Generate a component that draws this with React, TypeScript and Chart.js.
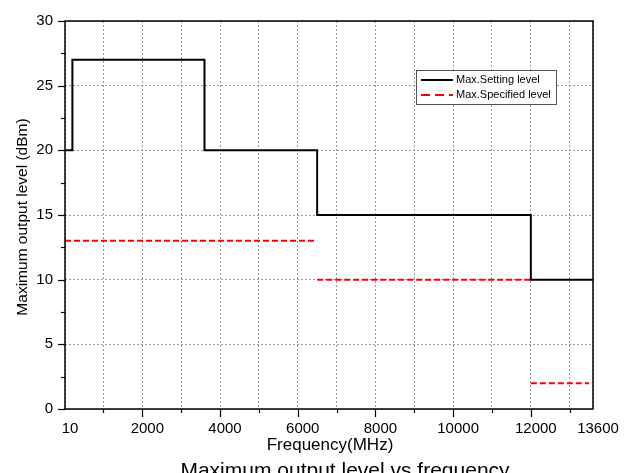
import React, { useEffect, useRef } from "react";
import { Chart, registerables } from "chart.js";

Chart.register(...registerables);

// ---- data ----
const settingFreq = [10, 200, 200, 3600, 3600, 6500, 6500, 12000, 12000, 13600];
const settingLevel = [20, 20, 27, 27, 20, 20, 15, 15, 10, 10];
const specFreq = [10, 6500, 6500, 6500, 12000, 12000, 12000, 13500];
const specLevel: (number | null)[] = [13, 13, null, 10, 10, null, 2, 2];

const xMajorTicks = [10, 2000, 4000, 6000, 8000, 10000, 12000, 13600];
const xMinorTicks = [1000, 3000, 5000, 7000, 9000, 11000, 13000];
const yMajorTicks = [0, 5, 10, 15, 20, 25, 30];
const yMinorTicks = [2.5, 7.5, 12.5, 17.5, 22.5, 27.5];

const seriesNames = ["Max.Setting level", "Max.Specified level"];
const chartTitle = "Maximum output level vs frequency";
const xAxisTitle = "Frequency(MHz)";
const yAxisTitle = "Maximum output level (dBm)";

const FONT = "'Liberation Sans', Arial, sans-serif";

const decorPlugin = {
  id: "decor",
  afterDraw(chart: any) {
    const ctx = chart.ctx as CanvasRenderingContext2D;
    const { left, right, top, bottom } = chart.chartArea;
    const xs = chart.scales.x;
    const ys = chart.scales.y;
    ctx.save();
    ctx.strokeStyle = "#000";
    ctx.setLineDash([]);
    const seg = (x1: number, y1: number, x2: number, y2: number) => {
      ctx.beginPath();
      ctx.moveTo(x1, y1);
      ctx.lineTo(x2, y2);
      ctx.stroke();
    };
    // x tick marks
    ctx.lineWidth = 1.2;
    for (const v of xMajorTicks.slice(1, -1)) {
      const px = Math.round(xs.getPixelForValue(v)) + 0.5;
      seg(px, bottom, px, bottom + 8);
    }
    for (const v of xMinorTicks) {
      const px = Math.round(xs.getPixelForValue(v)) + 0.5;
      seg(px, bottom, px, bottom + 4);
    }
    // y tick marks
    for (const v of yMajorTicks) {
      const py = Math.round(ys.getPixelForValue(v)) + 0.5;
      seg(left - 7, py, left, py);
    }
    for (const v of yMinorTicks) {
      const py = Math.round(ys.getPixelForValue(v)) + 0.5;
      seg(left - 4, py, left, py);
    }
    // frame
    ctx.lineWidth = 1.5;
    ctx.strokeRect(left, top, right - left, bottom - top);

    // legend
    const lx = 416, ly = 70, lw = 140, lh = 34;
    ctx.fillStyle = "#fff";
    ctx.fillRect(lx, ly, lw, lh);
    ctx.lineWidth = 1;
    ctx.strokeStyle = "#555";
    ctx.strokeRect(lx + 0.5, ly + 0.5, lw, lh);
    ctx.lineWidth = 2;
    ctx.strokeStyle = "#000";
    seg(lx + 5, ly + 10, lx + 37, ly + 10);
    ctx.strokeStyle = "#ff0000";
    ctx.setLineDash([9, 5]);
    seg(lx + 5, ly + 25, lx + 37, ly + 25);
    ctx.setLineDash([]);
    ctx.fillStyle = "#000";
    ctx.font = `11px ${FONT}`;
    ctx.textBaseline = "middle";
    ctx.textAlign = "left";
    ctx.fillText(seriesNames[0], lx + 40, ly + 10);
    ctx.fillText(seriesNames[1], lx + 40, ly + 25);

    // axis titles
    ctx.font = `17px ${FONT}`;
    ctx.textAlign = "center";
    ctx.fillText(xAxisTitle, 330, 445);
    ctx.save();
    ctx.font = `15.5px ${FONT}`;
    ctx.translate(23, 217);
    ctx.rotate(-Math.PI / 2);
    ctx.fillText(yAxisTitle, 0, 0);
    ctx.restore();
    // chart title (clipped at bottom in reference)
    ctx.font = `21px ${FONT}`;
    ctx.textBaseline = "alphabetic";
    ctx.fillText(chartTitle, 345, 477);
    ctx.restore();
  },
};

export default function App() {
  const canvasRef = useRef<HTMLCanvasElement | null>(null);

  useEffect(() => {
    const canvas = canvasRef.current;
    if (!canvas) return;
    const chart = new Chart(canvas, {
      type: "line",
      data: {
        datasets: [
          {
            label: seriesNames[0],
            data: settingFreq.map((f, i) => ({ x: f, y: settingLevel[i] })),
            borderColor: "#000",
            borderWidth: 2,
            pointRadius: 0,
            fill: false,
            tension: 0,
          },
          {
            label: seriesNames[1],
            data: specFreq.map((f, i) => ({ x: f, y: specLevel[i] as any })),
            borderColor: "#ff0000",
            borderWidth: 2,
            borderDash: [6, 3],
            pointRadius: 0,
            fill: false,
            spanGaps: false,
            tension: 0,
          },
        ],
      },
      options: {
        responsive: false,
        animation: false,
        devicePixelRatio: 1,
        layout: { padding: { top: 19, right: 40, left: 0, bottom: 0 } },
        plugins: {
          legend: { display: false },
          title: { display: false },
          tooltip: { enabled: false },
        },
        scales: {
          x: {
            type: "linear",
            min: 10,
            max: 13600,
            afterBuildTicks: (scale: any) => {
              scale.ticks = [...xMajorTicks, ...xMinorTicks]
                .sort((a, b) => a - b)
                .map((v) => ({ value: v }));
            },
            afterFit: (scale: any) => {
              scale.height = 64;
            },
            ticks: {
              autoSkip: false,
              maxRotation: 0,
              padding: 11,
              labelOffset: 5,
              color: "#000",
              font: { family: FONT, size: 15 },
              callback: (v: any) => (xMajorTicks.includes(Number(v)) ? String(v) : ""),
            },
            grid: {
              drawTicks: false,
              color: "#999",
              lineWidth: 1,
            },
            border: { display: false, dash: [2, 2] },
          },
          y: {
            type: "linear",
            min: 0,
            max: 30,
            afterBuildTicks: (scale: any) => {
              scale.ticks = [...yMajorTicks, ...yMinorTicks]
                .sort((a, b) => a - b)
                .map((v) => ({ value: v }));
            },
            afterFit: (scale: any) => {
              scale.width = 65;
            },
            ticks: {
              autoSkip: false,
              padding: 12,
              color: "#000",
              font: { family: FONT, size: 15 },
              callback: (v: any) => (yMajorTicks.includes(Number(v)) ? String(v) : ""),
            },
            grid: {
              drawTicks: false,
              color: (c: any) =>
                c.tick && yMajorTicks.includes(c.tick.value) ? "#999" : "rgba(0,0,0,0)",
              lineWidth: 1,
            },
            border: { display: false, dash: [2, 2] },
          },
        },
      },
      plugins: [decorPlugin],
    } as any);
    return () => chart.destroy();
  }, []);

  return (
    <div style={{ position: "absolute", left: 0, top: 0, width: 633, height: 473, background: "#fff" }}>
      <canvas ref={canvasRef} width={633} height={473} style={{ display: "block" }} />
    </div>
  );
}
